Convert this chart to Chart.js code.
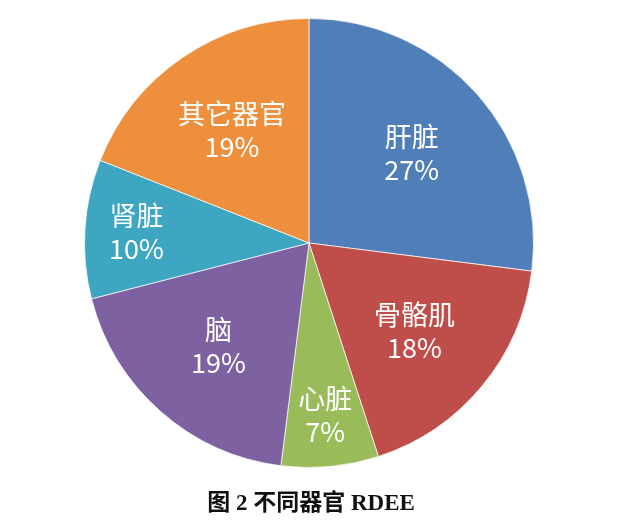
<!DOCTYPE html>
<html>
<head>
<meta charset="utf-8">
<script src="https://cdn.jsdelivr.net/npm/chart.js@4"></script>
<style>
  html, body { margin: 0; padding: 0; background: #fff; }
  #wrap { width: 624px; height: 525px; }
</style>
</head>
<body>
<div id="wrap"><canvas id="organ-pie"></canvas></div>
<script>
// Organ share of RDEE (percent), clockwise from 12 o'clock
const organs = ['肝脏', '骨骼肌', '心脏', '脑', '肾脏', '其它器官'];
const shares = [27, 18, 7, 19, 10, 19];
const sliceColors = ['#4F7EB9', '#BF4D4A', '#9ABB59', '#7E61A0', '#3FA6C2', '#EE8F3E'];
const caption = '图 2 不同器官 RDEE';

// Labels inside each slice: name on one line, percent under it
const sliceLabels = {
    id: 'sliceLabels',
    afterDatasetsDraw(chart) {
        const ctx = chart.ctx;
        const meta = chart.getDatasetMeta(0);
        ctx.save();
        ctx.fillStyle = '#ffffff';
        ctx.textAlign = 'center';
        ctx.textBaseline = 'middle';
        ctx.font = '27px "Noto Sans CJK SC", "Noto Sans", sans-serif';
        meta.data.forEach((arc, i) => {
            const mid = (arc.startAngle + arc.endAngle) / 2;
            // small slices get their text pushed further out
            const f = shares[i] < 12 ? 0.77 : 0.61;
            const r = arc.outerRadius * f;
            const x = arc.x + Math.cos(mid) * r;
            const y = arc.y + Math.sin(mid) * r;
            ctx.fillText(organs[i], x, y - 16);
            ctx.fillText(shares[i] + '%', x, y + 17);
        });
        ctx.restore();
    }
};

// Caption under the pie
const captionText = {
    id: 'captionText',
    afterDraw(chart) {
        const ctx = chart.ctx;
        ctx.save();
        ctx.fillStyle = '#111111';
        ctx.textAlign = 'center';
        ctx.textBaseline = 'middle';
        ctx.font = 'bold 23px "Liberation Serif", "Noto Sans CJK SC", serif';
        ctx.fillText(caption, 311, 504);
        ctx.restore();
    }
};

new Chart(document.getElementById('organ-pie'), {
    type: 'pie',
    data: {
        labels: organs,
        datasets: [{
            data: shares,
            backgroundColor: sliceColors,
            borderColor: 'rgba(255,255,255,0.7)',
            borderWidth: 1
        }]
    },
    options: {
        responsive: true,
        maintainAspectRatio: false,
        animation: false,
        layout: { padding: { top: 18, bottom: 57, left: 0, right: 6 } },
        plugins: {
            legend: { display: false },
            tooltip: { enabled: false }
        }
    },
    plugins: [sliceLabels, captionText]
});
</script>
</body>
</html>
